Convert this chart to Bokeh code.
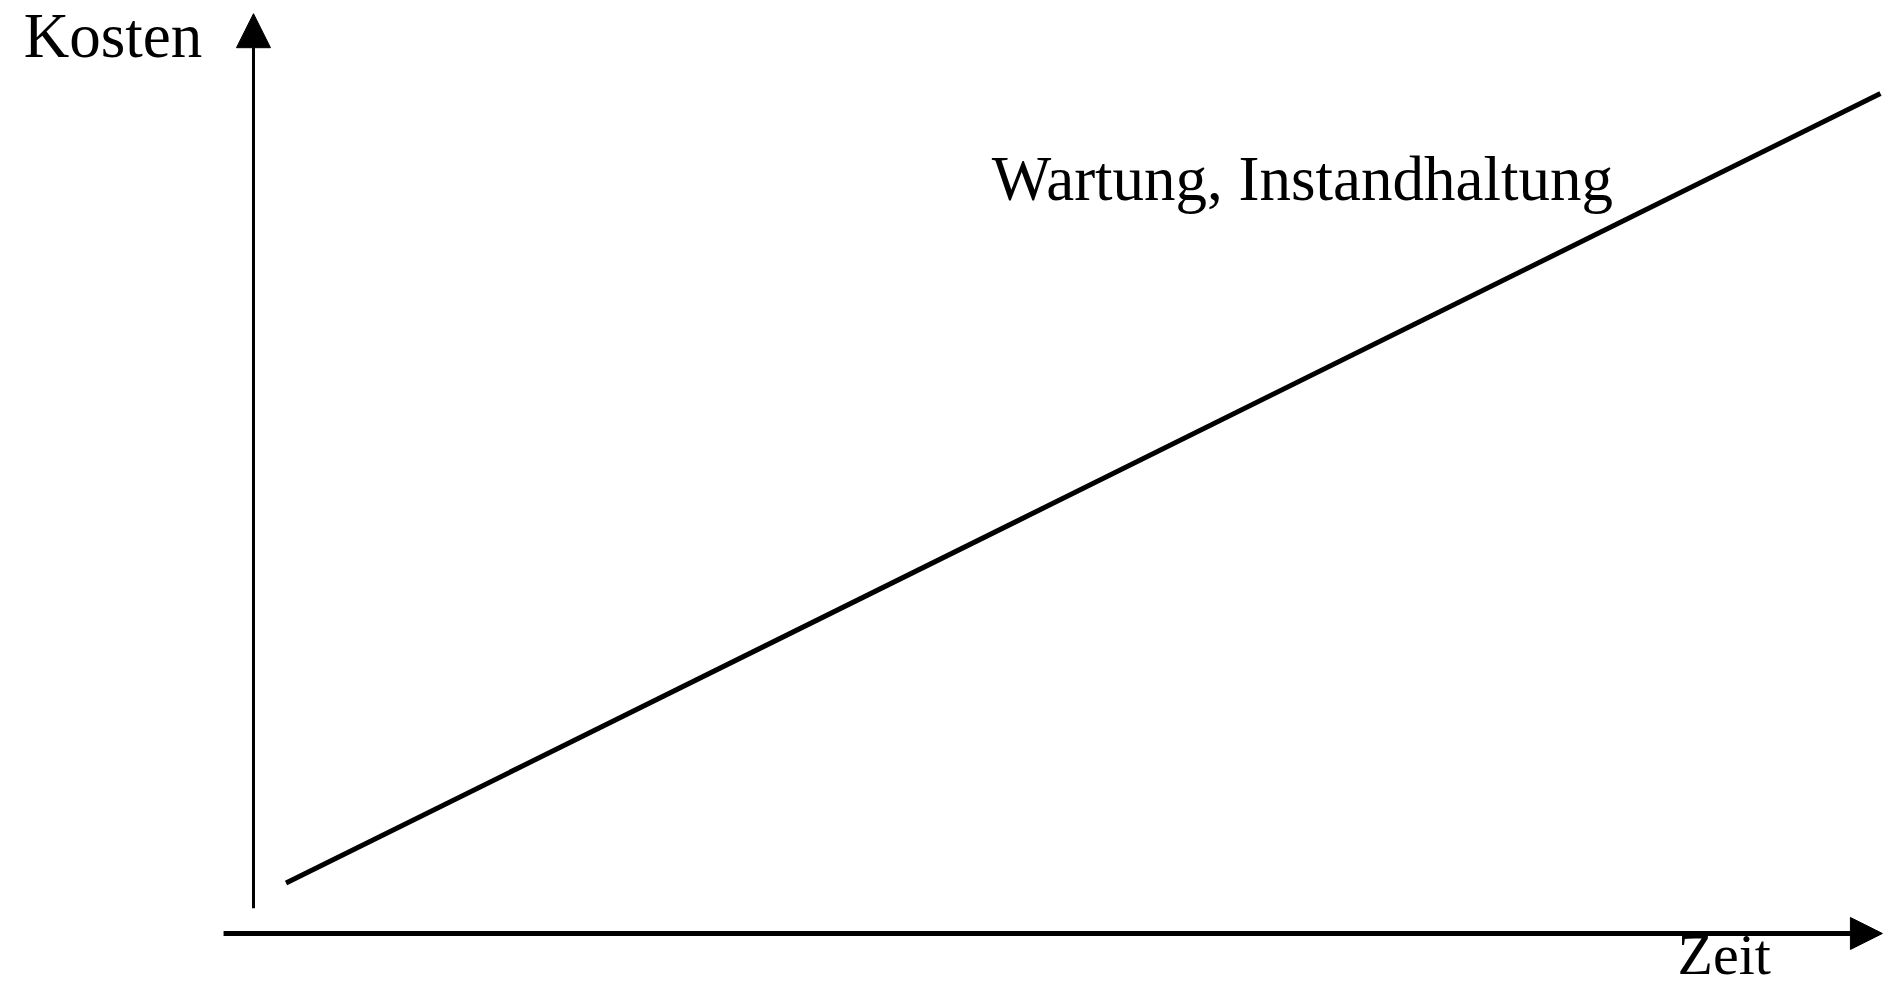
from bokeh.plotting import figure
from bokeh.models import Range1d, Arrow, NormalHead, Label
from bokeh.embed import file_html
from bokeh.resources import INLINE

# Maintenance cost rising linearly over time (schematic, no scale)
zeit = [0.2, 10.0]
kosten = [0.6, 10.0]

axis_label_x = "Zeit"
axis_label_y = "Kosten"
series_label = "Wartung, Instandhaltung"

W, H = 1892, 988
FONT = "Liberation Serif"

p = figure(width=W, height=H, output_backend="svg", toolbar_location=None,
           x_axis_type=None, y_axis_type=None, min_border=0,
           x_range=Range1d(-1.555, 10.074), y_range=Range1d(-0.655, 11.107))
p.grid.visible = False
p.outline_line_color = None
p.background_fill_color = "white"
p.border_fill_color = "white"

# cost line
p.line(zeit, kosten, line_color="black", line_width=5)

# hand-drawn style axes with arrow heads
p.add_layout(Arrow(x_start=0, y_start=0.30, x_end=0, y_end=10.95,
                   line_color="black", line_width=3,
                   end=NormalHead(size=34, fill_color="black", line_color="black")))
p.add_layout(Arrow(x_start=-0.184, y_start=0, x_end=10.012, y_end=0,
                   line_color="black", line_width=5,
                   end=NormalHead(size=32, fill_color="black", line_color="black")))

common = dict(text_font=FONT, text_color="black",
              text_baseline="alphabetic", text_align="center")
p.add_layout(Label(x=-0.864, y=10.68, text=axis_label_y, text_font_size="63px", **common))
p.add_layout(Label(x=9.04, y=-0.25, text=axis_label_x, text_font_size="58px", **common))
p.add_layout(Label(x=6.447, y=8.98, text=series_label, text_font_size="63px", **common))

open("out.html", "w").write(file_html(p, INLINE))
